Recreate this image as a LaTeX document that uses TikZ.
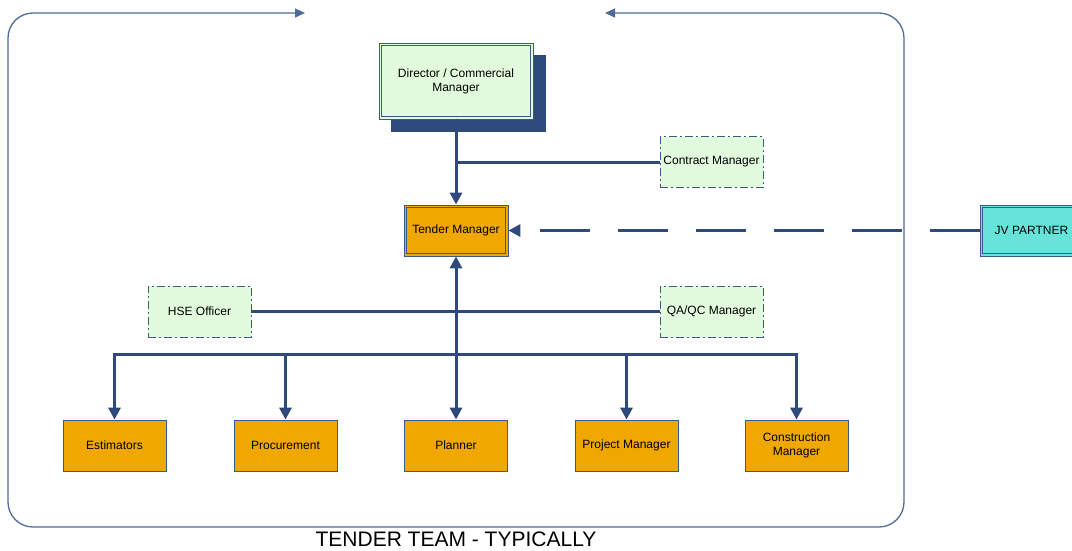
\documentclass[tikz,border=0pt]{standalone}
\usepackage{fontspec}
\setmainfont{Liberation Sans}
\usetikzlibrary{arrows.meta}

\definecolor{navy}{HTML}{2E4A7D}
\definecolor{framecol}{HTML}{4D6B99}
\definecolor{boxline}{HTML}{3B5A8C}
\definecolor{orangebox}{HTML}{F0A800}
\definecolor{mint}{HTML}{E2FBDD}
\definecolor{aqua}{HTML}{66E4DA}

\begin{document}
\begin{tikzpicture}[x=1pt,y=-1pt,
  box/.style={draw=boxline, line width=0.8pt, minimum width=103pt, minimum height=51pt,
    align=center, inner sep=1pt, font=\fontsize{12}{14}\selectfont},
  dbox/.style={box, fill=#1},
  inner/.style={draw=boxline, line width=0.8pt},
  obox/.style={box, fill=orangebox},
  dashbox/.style={box, fill=mint, line width=0.9pt,
    dash pattern=on 8pt off 3pt on 2pt off 3pt},
  conn/.style={draw=navy, line width=3pt},
  tip/.style={-{Triangle[length=12pt,width=12pt]}},
  frame/.style={draw=framecol, line width=1.3pt, rounded corners=25pt},
]
\useasboundingbox (0,0) rectangle (1072,550);

% outer team frame, opening at the top with arrows pointing into the gap
\draw[frame, {Triangle[length=10pt,width=9pt]}-{Triangle[length=10pt,width=9pt]}]
  (305,13) -| (8,527) -| (904,13) -- (605,13);
\node[font=\fontsize{21}{24}\selectfont] (title) at (456,539) {TENDER TEAM - TYPICALLY};

% director box with its solid shadow
\fill[navy] (391,55) rectangle (546,132);
\node[dbox=mint, minimum width=154pt, minimum height=76pt] (dir) at (456,81)
  {Director / Commercial\\Manager};

\node[dashbox] (contract) at (711.5,162) {Contract Manager};
\node[dbox=orangebox, minimum width=104pt] (tender) at (456,230.5) {Tender Manager};
\node[dbox=aqua] (jv) at (1031.5,230.5) {JV PARTNER};
\node[dashbox] (hse) at (199.5,311.5) {HSE Officer};
\node[dashbox] (qa) at (711.5,311.5) {QA/QC Manager};

% second (inner) border line of the double-framed boxes
\foreach \n in {dir,tender,jv}
  \draw[inner] ([shift={(3,3)}]\n.north west) rectangle ([shift={(-3,-3)}]\n.south east);

% bottom row
\node[obox] (est)  at (114.5,445.5) {Estimators};
\node[obox] (proc) at (285.5,445.5) {Procurement};
\node[obox] (plan) at (456,445.5) {Planner};
\node[obox] (pm)   at (626.5,445.5) {Project Manager};
\node[obox] (cm)   at (796.5,445.5) {Construction\\Manager};

% connectors
\draw[conn, tip] (dir.south) -- (tender.north);
\draw[conn] (contract.west) -- (contract.west -| dir.south);
\draw[conn] (hse.east) -- (qa.west);
\draw[conn, {Triangle[length=12pt,width=12pt]}-{Triangle[length=12pt,width=12pt]}]
  (tender.south) -- (plan.north);
\coordinate (bus) at (456,354);
\draw[conn, line cap=rect] (bus -| est.north) -- (bus -| cm.north);
\foreach \n in {est,proc,pm,cm}
  \draw[conn, tip] (bus -| \n.north) -- (\n.north);
\draw[conn, dash pattern=on 50pt off 28pt, tip] (jv.west) -- (tender.east);
\end{tikzpicture}
\end{document}
